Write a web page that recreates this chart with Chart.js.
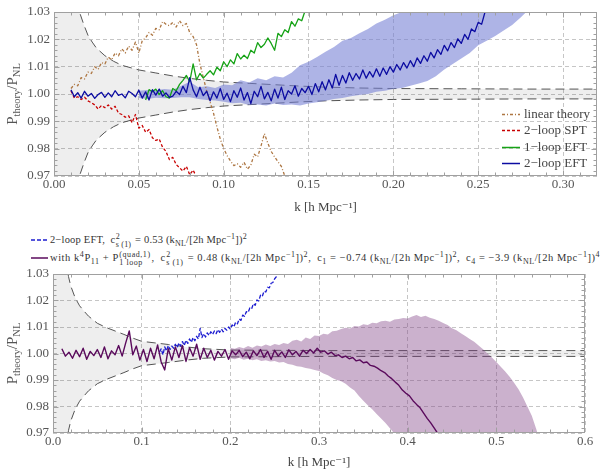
<!DOCTYPE html>
<html><head><meta charset="utf-8">
<script src="https://cdn.jsdelivr.net/npm/chart.js@4.4.1/dist/chart.umd.min.js"></script>
<style>
html,body{margin:0;padding:0;background:#fff;}
#wrap{position:relative;width:610px;height:470px;overflow:hidden;font-family:"Liberation Serif","DejaVu Serif",serif;}
#c1{position:absolute;left:0;top:0;}
#c2{position:absolute;left:0;top:262px;}
.lg{position:absolute;left:31px;height:16px;white-space:nowrap;font-size:10.5px;color:#333;line-height:16px;}
.lg svg{vertical-align:middle;margin-right:2px;position:relative;top:-1px;}
.st{display:inline-block;vertical-align:-3.5px;font-size:8px;line-height:8px;margin:0 1px 0 0.5px;text-align:left;}
.st span{display:block;}
sub{font-size:8px;line-height:0;vertical-align:-2.5px;}
sup{font-size:8px;line-height:0;vertical-align:4px;}
</style></head>
<body>
<div id="wrap">
<canvas id="c1" width="610" height="220"></canvas>
<div class="lg" id="row1" style="top:232px"><span class="smp" data-ds="0"></span>2−loop EFT,&ensp;c<span class="st"><span>2</span><span>s (1)</span></span> = 0.53 (k<sub>NL</sub>/[2h Mpc<sup>−1</sup>])<sup>2</sup></div>
<div class="lg" id="row2" style="top:250px"><span class="smp" data-ds="1"></span>with k<sup>4</sup>P<sub>11</sub> + P<span class="st"><span>(quad,1)</span><span>1 loop</span></span>,&ensp;c<span class="st"><span>2</span><span>s (1)</span></span> = 0.48 (k<sub>NL</sub>/[2h Mpc<sup>−1</sup>])<sup>2</sup>,&ensp;c<sub>1</sub> = −0.74 (k<sub>NL</sub>/[2h Mpc<sup>−1</sup>])<sup>2</sup>,&ensp;c<sub>4</sub> = −3.9 (k<sub>NL</sub>/[2h Mpc<sup>−1</sup>])<sup>4</sup></div>
<canvas id="c2" width="610" height="208"></canvas>
</div>
<script>
// ================= DATA =================
// axis ticks
const topXTicks = [0, 0.05, 0.10, 0.15, 0.20, 0.25, 0.30];
const topXTickLabels = ['0.00', '0.05', '0.10', '0.15', '0.20', '0.25', '0.30'];
const botXTicks = [0, 0.1, 0.2, 0.3, 0.4, 0.5, 0.6];
const botXTickLabels = ['0.0', '0.1', '0.2', '0.3', '0.4', '0.5', '0.6'];
const yTicks = [0.97, 0.98, 0.99, 1.00, 1.01, 1.02, 1.03];
const yTickLabels = ['0.97', '0.98', '0.99', '1.00', '1.01', '1.02', '1.03'];
const xTitle = 'k [h Mpc⁻¹]';
const topLegendLabels = ['linear theory', '2−loop SPT', '1−loop EFT', '2−loop EFT'];

// ---- top panel ----
// 2-loop EFT (k from 0.010, step 0.002)
const eft2TopStart = 0.010, eft2TopStep = 0.002;
const eft2Top = [
  1.0015, 0.9990, 1.0005, 0.9985, 1.0010, 0.9992, 1.0002, 0.9984, 0.9998, 1.0006,
  0.9988, 1.0004, 0.9990, 1.0012, 0.9995, 1.0000, 0.9986, 1.0010, 1.0002, 0.9990,
  1.0014, 0.9985, 1.0008, 0.9978, 1.0016, 0.9996, 1.0018, 0.9992, 1.0004, 0.9988,
  0.9992, 1.0010, 0.9998, 1.0028, 1.0005, 1.0060, 1.0015, 0.9990, 1.0025, 0.9994,
  1.0010, 0.9975, 1.0008, 0.9985, 1.0020, 0.9980, 1.0003, 0.9972, 1.0012, 0.9988,
  1.0022, 0.9978, 1.0005, 0.9965, 1.0010, 0.9990, 1.0028, 0.9982, 1.0006, 0.9975,
  1.0018, 0.9985, 1.0025, 0.9980, 1.0012, 1.0000, 1.0030, 0.9992, 1.0020, 1.0005,
  1.0028, 0.9998, 1.0038, 1.0008, 1.0045, 1.0015, 1.0052, 1.0022, 1.0072, 1.0032,
  1.0068, 1.0040, 1.0078, 1.0050, 1.0075, 1.0055, 1.0088, 1.0058, 1.0082, 1.0062,
  1.0092, 1.0065, 1.0095, 1.0072, 1.0100, 1.0080, 1.0108, 1.0088, 1.0115, 1.0095,
  1.0122, 1.0100, 1.0132, 1.0112, 1.0140, 1.0120, 1.0152, 1.0132, 1.0162, 1.0145,
  1.0178, 1.0158, 1.0188, 1.0170, 1.0202, 1.0185, 1.0218, 1.0200, 1.0238, 1.0228,
  1.0262, 1.0255, 1.0300
];
// 1-loop EFT (k from 0.054, step 0.002)
const eft1TopStart = 0.054, eft1TopStep = 0.002;
const eft1Top = [
  0.9978, 1.0016, 1.0008, 1.0018, 0.9998, 1.0012, 0.9990, 0.9985, 1.0020, 1.0012,
  1.0035, 1.0050, 1.0068, 1.0045, 1.0110, 1.0052, 1.0075, 1.0058, 1.0072, 1.0085,
  1.0070, 1.0098, 1.0085, 1.0118, 1.0100, 1.0125, 1.0110, 1.0148, 1.0128, 1.0142,
  1.0130, 1.0160, 1.0150, 1.0188, 1.0170, 1.0182, 1.0205, 1.0185, 1.0160, 1.0222,
  1.0210, 1.0235, 1.0225, 1.0265, 1.0248, 1.0275, 1.0268, 1.0305
];
// 2-loop SPT (k from 0.010, step 0.002)
const sptTopStart = 0.010, sptTopStep = 0.002;
const sptTop = [
  1.0012, 0.9985, 0.9990, 0.9980, 0.9988, 0.9975, 0.9968, 0.9960, 0.9945, 0.9958,
  0.9950, 0.9960, 0.9945, 0.9955, 0.9930, 0.9925, 0.9915, 0.9920, 0.9895, 0.9925,
  0.9875, 0.9885, 0.9860, 0.9870, 0.9840, 0.9830, 0.9835, 0.9805, 0.9790, 0.9760,
  0.9768, 0.9742, 0.9730, 0.9718, 0.9735, 0.9705, 0.9722, 0.9695
];
// linear theory (k from 0.010, step 0.002)
const linTopStart = 0.010, linTopStep = 0.002;
const linTop = [
  1.0020, 1.0035, 1.0030, 1.0060, 1.0055, 1.0080, 1.0075, 1.0100, 1.0090, 1.0115,
  1.0110, 1.0135, 1.0125, 1.0150, 1.0140, 1.0165, 1.0150, 1.0175, 1.0160, 1.0190,
  1.0150, 1.0195, 1.0205, 1.0225, 1.0215, 1.0240, 1.0235, 1.0265, 1.0255, 1.0250,
  1.0262, 1.0245, 1.0268, 1.0250, 1.0258, 1.0225, 1.0210, 1.0180, 1.0110, 1.0060,
  1.0010, 0.9970, 0.9930, 0.9880, 0.9835, 0.9800, 0.9775, 0.9755, 0.9738, 0.9745,
  0.9732, 0.9750, 0.9725, 0.9740, 0.9780, 0.9770, 0.9810, 0.9855, 0.9820, 0.9790,
  0.9770, 0.9752, 0.9735, 0.9700
];
// 2-loop EFT error band (k from 0.050, step 0.005)
const errTopStart = 0.050, errTopStep = 0.005;
const errTopUpper = [
  1.0012, 1.0015, 1.0014, 1.0018, 1.0016, 1.0030, 1.0045, 1.0025, 1.0028, 1.0022,
  1.0035, 1.0032, 1.0050, 1.0042, 1.0058, 1.0050, 1.0065, 1.0060, 1.0078, 1.0105,
  1.0118, 1.0135, 1.0155, 1.0172, 1.0195, 1.0205, 1.0222, 1.0238, 1.0258, 1.0272,
  1.0288, 1.0300, 1.0318, 1.0334, 1.0351, 1.0365, 1.0388, 1.0402, 1.0425, 1.0441,
  1.0466, 1.0479, 1.0503, 1.0517, 1.0546, 1.0559, 1.0584
];
const errTopLower = [
  0.9985, 0.9982, 0.9986, 0.9984, 0.9985, 0.9988, 0.9988, 0.9982, 0.9978, 0.9976,
  0.9972, 0.9966, 0.9968, 0.9960, 0.9962, 0.9958, 0.9965, 0.9960, 0.9962, 0.9958,
  0.9965, 0.9970, 0.9975, 0.9982, 0.9985, 0.9992, 0.9996, 1.0000, 1.0008, 1.0012,
  1.0018, 1.0022, 1.0030, 1.0038, 1.0048, 1.0065, 1.0090, 1.0110, 1.0130, 1.0150,
  1.0178, 1.0195, 1.0212, 1.0232, 1.0252, 1.0280, 1.0310
];
// grey sample-variance band (top)
const bandTopK = [0, 0.010, 0.0125, 0.015, 0.0175, 0.020, 0.0225, 0.025, 0.030, 0.035, 0.040, 0.050, 0.060,
  0.070, 0.080, 0.090, 0.100, 0.115, 0.130, 0.145, 0.160, 0.180, 0.200, 0.240, 0.280, 0.320];
const bandTopUpper = [1.5, 1.045, 1.036, 1.030, 1.0255, 1.0215, 1.019, 1.0168, 1.014, 1.012, 1.0105, 1.0088, 1.0077,
  1.0066, 1.0057, 1.0050, 1.0044, 1.0039, 1.0034, 1.0029, 1.0025, 1.0022, 1.0020, 1.0019, 1.0018, 1.0018];
const bandTopLower = [0.5, 0.955, 0.964, 0.970, 0.9745, 0.9785, 0.981, 0.9832, 0.986, 0.988, 0.9895, 0.9912, 0.9923,
  0.9934, 0.9943, 0.9950, 0.9956, 0.9961, 0.9966, 0.9971, 0.9975, 0.9978, 0.9980, 0.9981, 0.9982, 0.9982];

// ---- bottom panel ----
// 2-loop EFT dashed (k from 0.120, step 0.002)
const eft2BotStart = 0.120, eft2BotStep = 0.002;
const eft2Bot = [
  1.0005, 1.0018, 0.9995, 1.0025, 1.0010, 1.0030, 1.0015, 1.0028, 1.0020, 1.0035,
  1.0022, 1.0040, 1.0028, 1.0045, 1.0030, 1.0050, 1.0038, 1.0055, 1.0042, 1.0060,
  1.0048, 1.0065, 1.0055, 1.0095, 1.0060, 1.0075, 1.0062, 1.0078, 1.0068, 1.0082,
  1.0072, 1.0085, 1.0075, 1.0090, 1.0080, 1.0092, 1.0082, 1.0095, 1.0088, 1.0100,
  1.0092, 1.0108, 1.0100, 1.0118, 1.0112, 1.0130, 1.0125, 1.0145, 1.0140, 1.0158,
  1.0155, 1.0172, 1.0168, 1.0188, 1.0182, 1.0202, 1.0198, 1.0220, 1.0215, 1.0235,
  1.0232, 1.0250, 1.0248, 1.0265, 1.0268, 1.0282, 1.0290, 1.0305
];
// with k^4 P11 + P(quad,1) (k from 0.010, step 0.004)
const quadBotStart = 0.010, quadBotStep = 0.004;
const quadBot = [
  1.0018, 0.9990, 1.0005, 0.9982, 1.0012, 0.9988, 1.0020, 0.9978, 1.0008, 0.9992,
  1.0015, 0.9985, 1.0025, 0.9980, 1.0010, 0.9995, 1.0030, 0.9990, 1.0040, 1.0085,
  0.9995, 1.0028, 0.9975, 1.0015, 0.9970, 1.0020, 0.9980, 1.0032, 0.9968, 0.9938,
  1.0018, 0.9975, 1.0025, 0.9985, 1.0030, 0.9970, 1.0022, 0.9990, 1.0035, 0.9978,
  1.0020, 0.9985, 1.0012, 0.9975, 1.0008, 0.9990, 1.0015, 0.9978, 1.0010, 0.9995,
  1.0012, 0.9988, 1.0005, 0.9980, 1.0010, 0.9992, 1.0015, 0.9985, 1.0008, 0.9978,
  1.0012, 0.9990, 1.0006, 0.9985, 1.0014, 0.9995, 1.0008, 0.9990, 1.0012, 1.0000,
  1.0015, 1.0002, 1.0020, 1.0005, 1.0010, 0.9998, 1.0005, 0.9992, 0.9995, 0.9985,
  0.9990, 0.9980, 0.9985, 0.9972, 0.9976, 0.9965, 0.9968, 0.9955, 0.9952, 0.9945,
  0.9935, 0.9928, 0.9915, 0.9905, 0.9892, 0.9880, 0.9862, 0.9850, 0.9840, 0.9822,
  0.9808, 0.9795, 0.9775, 0.9755, 0.9738, 0.9718, 0.9698
];
// error band of the purple curve (k from 0.200, step 0.005)
const errBotStart = 0.200, errBotStep = 0.005;
const errBotUpper = [
  1.0022, 1.0018, 1.0025, 1.0020, 1.0028, 1.0022, 1.0030, 1.0026, 1.0034, 1.0028,
  1.0036, 1.0032, 1.0040, 1.0036, 1.0048, 1.0052, 1.0045, 1.0060, 1.0055, 1.0068,
  1.0066, 1.0075, 1.0072, 1.0084, 1.0086, 1.0092, 1.0097, 1.0094, 1.0104, 1.0102,
  1.0110, 1.0108, 1.0116, 1.0114, 1.0122, 1.0124, 1.0120, 1.0128, 1.0130, 1.0134,
  1.0132, 1.0140, 1.0145, 1.0138, 1.0142, 1.0135, 1.0130, 1.0124, 1.0115, 1.0108,
  1.0095, 1.0088, 1.0076, 1.0066, 1.0055, 1.0044, 1.0030, 1.0016, 1.0000, 0.9985,
  0.9968, 0.9950, 0.9932, 0.9912, 0.9890, 0.9865, 0.9835, 0.9800, 0.9765, 0.9715,
  0.9660
];
const errBotLower = [
  0.9982, 0.9978, 0.9984, 0.9976, 0.9980, 0.9975, 0.9978, 0.9972, 0.9975, 0.9970,
  0.9972, 0.9966, 0.9968, 0.9960, 0.9958, 0.9952, 0.9950, 0.9945, 0.9942, 0.9938,
  0.9934, 0.9925, 0.9918, 0.9908, 0.9900, 0.9895, 0.9886, 0.9872, 0.9860, 0.9840,
  0.9822, 0.9805, 0.9790, 0.9772, 0.9755, 0.9738, 0.9718, 0.9698, 0.9676, 0.9657,
  0.9633, 0.9618, 0.9594, 0.9577, 0.9552, 0.9538, 0.9512, 0.9497, 0.9471, 0.9458,
  0.9432, 0.9417, 0.9393, 0.9378, 0.9352, 0.9337, 0.9316, 0.9294, 0.9277, 0.9253,
  0.9236, 0.9212, 0.9197, 0.9173, 0.9158, 0.9131, 0.9117, 0.9092, 0.9078, 0.9051,
  0.9036
];
// grey sample-variance band (bottom)
const bandBotK = [0, 0.010, 0.0125, 0.015, 0.0175, 0.020, 0.025, 0.030, 0.035, 0.040, 0.050, 0.060, 0.070,
  0.080, 0.090, 0.100, 0.115, 0.130, 0.150, 0.170, 0.200, 0.250, 0.300, 0.400, 0.500, 0.600];
const bandBotUpper = [1.5, 1.052, 1.041, 1.034, 1.029, 1.0255, 1.021, 1.018, 1.016, 1.0141, 1.0114, 1.0098, 1.0085,
  1.0072, 1.0058, 1.0046, 1.0040, 1.0034, 1.0025, 1.0018, 1.0013, 1.0012, 1.0011, 1.0011, 1.0011, 1.0011];
const bandBotLower = [0.5, 0.948, 0.959, 0.966, 0.971, 0.9745, 0.979, 0.982, 0.984, 0.9859, 0.9886, 0.9902, 0.9915,
  0.9928, 0.9942, 0.9954, 0.9960, 0.9966, 0.9975, 0.9982, 0.9987, 0.9988, 0.9989, 0.9989, 0.9989, 0.9989];

// ================= HELPERS =================
const SERIF = '"Liberation Serif", "DejaVu Serif", serif';
function onGrid(start, step, vals) { return vals.map((v, i) => ({ x: +(start + i * step).toFixed(5), y: v })); }
function onK(ks, vals) { return ks.map((k, i) => ({ x: k, y: vals[i] })); }

Chart.defaults.font.family = SERIF;
Chart.defaults.color = '#555';

const framePlugin = {
  id: 'frame',
  afterDatasetsDraw(chart, args, opts) {
    const { ctx, chartArea: a, scales: { x, y } } = chart;
    ctx.save();
    ctx.setLineDash([]);
    ctx.strokeStyle = '#a0a0a0';
    ctx.lineWidth = 1;
    const L = Math.round(a.left) + 0.5, R = Math.round(a.right) - 0.5, T = Math.round(a.top) + 0.5, B = Math.round(a.bottom) - 0.5;
    ctx.strokeRect(L, T, R - L, B - T);
    ctx.beginPath();
    const nx = Math.round((x.max - x.min) / opts.xStep);
    for (let i = 1; i < nx; i++) {
      const v = x.min + i * opts.xStep;
      const major = Math.abs(v / opts.xMajor - Math.round(v / opts.xMajor)) < 1e-6;
      const len = major ? 5 : 3;
      const p = Math.round(x.getPixelForValue(v)) + 0.5;
      ctx.moveTo(p, T); ctx.lineTo(p, T + len);
      ctx.moveTo(p, B); ctx.lineTo(p, B - len);
    }
    const ny = Math.round((y.max - y.min) / opts.yStep);
    for (let i = 1; i < ny; i++) {
      const v = y.min + i * opts.yStep;
      const major = (i % opts.yPerMajor) === 0;
      const len = major ? 5 : 3;
      const p = Math.round(y.getPixelForValue(v)) + 0.5;
      ctx.moveTo(L, p); ctx.lineTo(L + len, p);
      ctx.moveTo(R, p); ctx.lineTo(R - len, p);
    }
    ctx.stroke();
    ctx.restore();
  }
};

const yTitleParts = [['P', 0], ['theory', 1], ['/P', 0], ['NL', 1]];
const yTitlePlugin = {
  id: 'yTitle',
  afterDraw(chart) {
    const { ctx, chartArea: a } = chart;
    ctx.save();
    ctx.translate(12, (a.top + a.bottom) / 2);
    ctx.rotate(-Math.PI / 2);
    ctx.fillStyle = '#555';
    ctx.textBaseline = 'alphabetic';
    ctx.textAlign = 'left';
    const fonts = ['15px ' + SERIF, '10.5px ' + SERIF];
    let total = 0;
    const w = yTitleParts.map(([t, s]) => { ctx.font = fonts[s]; const m = ctx.measureText(t).width; total += m; return m; });
    let px = -total / 2;
    yTitleParts.forEach(([t, s], i) => { ctx.font = fonts[s]; ctx.fillText(t, px, s ? 8 : 5); px += w[i]; });
    ctx.restore();
  }
};

const topLegendPlugin = {
  id: 'topLegend',
  afterDatasetsDraw(chart) {
    const { ctx, chartArea: a } = chart;
    const items = chart.data.datasets.filter(d => d.legendRow !== undefined).sort((p, q) => p.legendRow - q.legendRow);
    ctx.save();
    items.forEach((d, i) => {
      const yy = Math.round(a.top + 102 + i * 16.3) + 0.5;
      const x0 = a.right - 95;
      ctx.strokeStyle = d.borderColor;
      ctx.lineWidth = 1.5;
      ctx.setLineDash(d.borderDash || []);
      ctx.beginPath(); ctx.moveTo(x0, yy); ctx.lineTo(x0 + 18, yy); ctx.stroke();
      ctx.setLineDash([]);
      ctx.fillStyle = '#444';
      ctx.font = '13px ' + SERIF;
      ctx.textBaseline = 'middle';
      ctx.textAlign = 'left';
      ctx.fillText(topLegendLabels[d.legendRow], x0 + 22, yy);
    });
    ctx.restore();
  }
};

function axisX(min, max, ticks, labels, height, titlePadBottom) {
  return {
    type: 'linear', min, max,
    afterBuildTicks: s => { s.ticks = ticks.map(v => ({ value: v })); },
    afterFit: s => { s.height = height; },
    ticks: { callback: (v, i) => labels[i], autoSkip: false, maxRotation: 0, minRotation: 0, padding: 1, color: '#555', font: { family: SERIF, size: 13 } },
    grid: { color: '#c6c6c6', lineWidth: 1, drawTicks: false },
    border: { display: false, dash: [4, 3] },
    title: { display: true, text: xTitle, color: '#444', font: { family: SERIF, size: 13 }, padding: { top: 0, bottom: titlePadBottom } }
  };
}
function axisY(width) {
  return {
    type: 'linear', min: 0.97, max: 1.03,
    afterBuildTicks: s => { s.ticks = yTicks.map(v => ({ value: v })); },
    afterFit: s => { s.width = width; },
    ticks: { callback: (v, i) => yTickLabels[i], padding: 4, color: '#555', font: { family: SERIF, size: 13 } },
    grid: { color: '#c6c6c6', lineWidth: 1, drawTicks: false },
    border: { display: false, dash: [4, 3] }
  };
}
const common = {
  responsive: false, animation: false, devicePixelRatio: 1, events: [],
  elements: { point: { radius: 0, hitRadius: 0 }, line: { tension: 0, borderJoinStyle: 'round', borderCapStyle: 'butt' } },
};
const BAND_FILL = 'rgba(0,0,0,0.065)', BAND_LINE = '#555', BAND_DASH = [9, 5];
const NONE = 'rgba(0,0,0,0)';

// ================= TOP CHART =================
new Chart(document.getElementById('c1'), {
  type: 'line',
  data: {
    datasets: [
      { label: '2−loop EFT', legendRow: 3, data: onGrid(eft2TopStart, eft2TopStep, eft2Top), borderColor: '#0c0ca2', borderWidth: 1.3, fill: false, order: 1 },
      { label: '1−loop EFT', legendRow: 2, data: onGrid(eft1TopStart, eft1TopStep, eft1Top), borderColor: '#16a316', borderWidth: 1.3, fill: false, order: 2 },
      { label: '2−loop SPT', legendRow: 1, data: onGrid(sptTopStart, sptTopStep, sptTop), borderColor: '#c80000', borderDash: [3, 2], borderWidth: 1.3, fill: false, order: 3 },
      { label: 'linear theory', legendRow: 0, data: onGrid(linTopStart, linTopStep, linTop), borderColor: '#ad7642', borderDash: [3, 2, 1, 2], borderWidth: 1.3, fill: false, order: 4 },
      { label: 'err upper', data: onGrid(errTopStart, errTopStep, errTopUpper), borderColor: NONE, borderWidth: 0, backgroundColor: 'rgba(115,125,212,0.58)', fill: '+1', order: 6 },
      { label: 'err lower', data: onGrid(errTopStart, errTopStep, errTopLower), borderColor: NONE, borderWidth: 0, fill: false, order: 6 },
      { label: 'band upper', data: onK(bandTopK, bandTopUpper), borderColor: BAND_LINE, borderDash: BAND_DASH, borderWidth: 1, backgroundColor: BAND_FILL, fill: '+1', order: 8 },
      { label: 'band lower', data: onK(bandTopK, bandTopLower), borderColor: BAND_LINE, borderDash: BAND_DASH, borderWidth: 1, fill: false, order: 8 }
    ]
  },
  options: Object.assign({}, common, {
    layout: { padding: { left: 0, right: 13, top: 12, bottom: 0 } },
    scales: { x: axisX(0, 0.32, topXTicks, topXTickLabels, 44, 5), y: axisY(54) },
    plugins: { legend: { display: false }, tooltip: { enabled: false }, frame: { xStep: 0.01, xMajor: 0.05, yStep: 0.002, yPerMajor: 5 } }
  }),
  plugins: [framePlugin, yTitlePlugin, topLegendPlugin]
});

// ================= BOTTOM CHART =================
const botChart = new Chart(document.getElementById('c2'), {
  type: 'line',
  data: {
    datasets: [
      { label: '2−loop EFT', data: onGrid(eft2BotStart, eft2BotStep, eft2Bot), borderColor: '#1c1cd0', borderDash: [4, 2], borderWidth: 1.3, fill: false, order: 2 },
      { label: 'with k⁴P11 + P(quad,1)', data: onGrid(quadBotStart, quadBotStep, quadBot), borderColor: '#5a0a5c', borderWidth: 1.4, fill: false, order: 1 },
      { label: 'err upper', data: onGrid(errBotStart, errBotStep, errBotUpper), borderColor: NONE, borderWidth: 0, backgroundColor: 'rgba(125,60,130,0.4)', fill: '+1', order: 6 },
      { label: 'err lower', data: onGrid(errBotStart, errBotStep, errBotLower), borderColor: NONE, borderWidth: 0, fill: false, order: 6 },
      { label: 'band upper', data: onK(bandBotK, bandBotUpper), borderColor: BAND_LINE, borderDash: BAND_DASH, borderWidth: 1, backgroundColor: BAND_FILL, fill: '+1', order: 8 },
      { label: 'band lower', data: onK(bandBotK, bandBotLower), borderColor: BAND_LINE, borderDash: BAND_DASH, borderWidth: 1, fill: false, order: 8 }
    ]
  },
  options: Object.assign({}, common, {
    layout: { padding: { left: 0, right: 25, top: 12, bottom: 0 } },
    scales: { x: axisX(0, 0.6, botXTicks, botXTickLabels, 37, 0), y: axisY(53) },
    plugins: { legend: { display: false }, tooltip: { enabled: false }, frame: { xStep: 0.02, xMajor: 0.1, yStep: 0.002, yPerMajor: 5 } }
  }),
  plugins: [framePlugin, yTitlePlugin]
});

// legend samples for the bottom panel, drawn from the dataset styles
document.querySelectorAll('.smp').forEach(el => {
  const d = botChart.data.datasets[+el.dataset.ds];
  const dash = (d.borderDash || []).join(',');
  el.innerHTML = '<svg width="17" height="6"><line x1="0" y1="3" x2="17" y2="3" stroke="' + d.borderColor +
    '" stroke-width="1.5"' + (dash ? ' stroke-dasharray="' + dash + '"' : '') + '/></svg>';
});
// stretch each legend row to the width it has in the original figure
function fitRow(id, right) {
  const el = document.getElementById(id);
  el.style.letterSpacing = '0px';
  const w = el.getBoundingClientRect().right;
  const n = el.textContent.length;
  el.style.letterSpacing = ((right - w) / n).toFixed(3) + 'px';
}
fitRow('row1', 247);
fitRow('row2', 604);
</script>
</body></html>
